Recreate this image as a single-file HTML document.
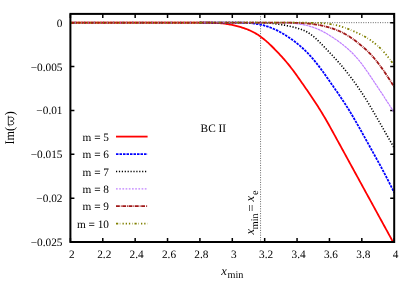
<!DOCTYPE html>
<html><head><meta charset="utf-8"><title>plot</title>
<style>
html,body{margin:0;padding:0;background:#fff;}
body{width:415px;height:291px;overflow:hidden;position:relative;font-family:"Liberation Serif",serif;}
svg text{font-family:"Liberation Serif",serif;fill:#000;text-rendering:geometricPrecision;}
.t11{font-size:11.3px;}
.t12{font-size:12.5px;}
.t13{font-size:13.3px;}
.t10{font-size:10.2px;}
</style></head><body>
<svg width="415" height="291" viewBox="0 0 415 291" style="position:absolute;left:0;top:0;will-change:transform">
<rect x="0" y="0" width="415" height="291" fill="#ffffff"/>
<line x1="70.40" y1="22.67" x2="394.20" y2="22.67" stroke="#000" stroke-width="0.6" stroke-dasharray="1 1.4"/>
<line x1="260.55" y1="13.90" x2="260.55" y2="242.00" stroke="#000" stroke-width="0.6" stroke-dasharray="1 1.4"/>
<path d="M70.40 242.00 v-4 M70.40 13.90 v4 M102.78 242.00 v-4 M102.78 13.90 v4 M135.16 242.00 v-4 M135.16 13.90 v4 M167.54 242.00 v-4 M167.54 13.90 v4 M199.92 242.00 v-4 M199.92 13.90 v4 M232.30 242.00 v-4 M232.30 13.90 v4 M264.68 242.00 v-4 M264.68 13.90 v4 M297.06 242.00 v-4 M297.06 13.90 v4 M329.44 242.00 v-4 M329.44 13.90 v4 M361.82 242.00 v-4 M361.82 13.90 v4 M394.20 242.00 v-4 M394.20 13.90 v4 M70.40 22.67 h4 M394.20 22.67 h-4 M70.40 66.54 h4 M394.20 66.54 h-4 M70.40 110.40 h4 M394.20 110.40 h-4 M70.40 154.27 h4 M394.20 154.27 h-4 M70.40 198.13 h4 M394.20 198.13 h-4 M70.40 242.00 h4 M394.20 242.00 h-4" stroke="#000" stroke-width="1.5" fill="none"/>
<line x1="70.40" y1="22.67" x2="200.00" y2="22.67" stroke="#ff0000" stroke-width="1.90"/>
<line x1="70.40" y1="22.67" x2="200.00" y2="22.67" stroke="#0000ff" stroke-width="2.00" stroke-dasharray="0.9 8.7" stroke-dashoffset="-4.0"/>
<line x1="70.40" y1="22.67" x2="200.00" y2="22.67" stroke="#a01818" stroke-width="2.00" stroke-dasharray="2.0 1.2" stroke-dashoffset="-1.4"/>
<line x1="70.40" y1="22.67" x2="200.00" y2="22.67" stroke="#c080ff" stroke-width="2.00" stroke-dasharray="1.0 5.4" stroke-dashoffset="-4.3"/>
<line x1="70.40" y1="22.67" x2="200.00" y2="22.67" stroke="#808000" stroke-width="2.00" stroke-dasharray="1.0 2.2" stroke-dashoffset="-0.6"/>
<path d="M200.00 22.67 L200.00 22.67 L201.00 22.67 L202.00 22.67 L203.00 22.67 L204.00 22.67 L205.00 22.68 L206.00 22.68 L207.00 22.69 L208.00 22.69 L209.00 22.70 L210.00 22.72 L211.00 22.74 L212.00 22.76 L213.00 22.79 L214.00 22.82 L215.00 22.86 L216.00 22.91 L217.00 22.97 L218.00 23.02 L219.00 23.10 L220.00 23.17 L221.00 23.26 L222.00 23.36 L223.00 23.47 L224.00 23.58 L225.00 23.71 L226.00 23.85 L227.00 24.00 L228.00 24.16 L229.00 24.33 L230.00 24.51 L231.00 24.71 L232.00 24.91 L233.00 25.13 L234.00 25.35 L235.00 25.59 L236.00 25.83 L237.00 26.09 L238.00 26.35 L239.00 26.63 L240.00 26.91 L241.00 27.21 L242.00 27.52 L243.00 27.85 L244.00 28.18 L245.00 28.53 L246.00 28.89 L247.00 29.28 L248.00 29.67 L249.00 30.10 L250.00 30.53 L251.00 30.99 L252.00 31.46 L253.00 31.98 L254.00 32.49 L255.00 33.06 L256.00 33.62 L257.00 34.24 L258.00 34.86 L259.00 35.53 L260.00 36.20 L261.00 36.94 L262.00 37.67 L263.00 38.45 L264.00 39.24 L265.00 40.08 L266.00 40.91 L267.00 41.80 L268.00 42.69 L269.00 43.62 L270.00 44.55 L271.00 45.52 L272.00 46.49 L273.00 47.49 L274.00 48.49 L275.00 49.52 L276.00 50.55 L277.00 51.60 L278.00 52.65 L279.00 53.72 L280.00 54.79 L281.00 55.88 L282.00 56.98 L283.00 58.10 L284.00 59.22 L285.00 60.37 L286.00 61.53 L287.00 62.73 L288.00 63.92 L289.00 65.17 L290.00 66.41 L291.00 67.70 L292.00 68.99 L293.00 70.32 L294.00 71.66 L295.00 73.03 L296.00 74.40 L297.00 75.80 L298.00 77.20 L299.00 78.62 L300.00 80.04 L301.00 81.47 L302.00 82.90 L303.00 84.33 L304.00 85.77 L305.00 87.21 L306.00 88.65 L307.00 90.10 L308.00 91.55 L309.00 93.01 L310.00 94.47 L311.00 95.94 L312.00 97.42 L313.00 98.92 L314.00 100.42 L315.00 101.94 L316.00 103.46 L317.00 105.02 L318.00 106.57 L319.00 108.16 L320.00 109.76 L321.00 111.38 L322.00 113.01 L323.00 114.68 L324.00 116.35 L325.00 118.06 L326.00 119.77 L327.00 121.52 L328.00 123.27 L329.00 125.05 L330.00 126.83 L331.00 128.63 L332.00 130.44 L333.00 132.26 L334.00 134.08 L335.00 135.91 L336.00 137.74 L337.00 139.57 L338.00 141.39 L339.00 143.22 L340.00 145.05 L341.00 146.88 L342.00 148.70 L343.00 150.53 L344.00 152.36 L345.00 154.18 L346.00 156.01 L347.00 157.84 L348.00 159.67 L349.00 161.49 L350.00 163.32 L351.00 165.15 L352.00 166.98 L353.00 168.80 L354.00 170.63 L355.00 172.46 L356.00 174.28 L357.00 176.11 L358.00 177.94 L359.00 179.77 L360.00 181.59 L361.00 183.42 L362.00 185.25 L363.00 187.08 L364.00 188.90 L365.00 190.73 L366.00 192.56 L367.00 194.38 L368.00 196.21 L369.00 198.04 L370.00 199.87 L371.00 201.69 L372.00 203.52 L373.00 205.35 L374.00 207.18 L375.00 209.00 L376.00 210.83 L377.00 212.66 L378.00 214.48 L379.00 216.31 L380.00 218.14 L381.00 219.97 L382.00 221.79 L383.00 223.62 L384.00 225.45 L385.00 227.28 L386.00 229.10 L387.00 230.93 L388.00 232.76 L389.00 234.58 L390.00 236.41 L391.00 238.24 L392.00 240.07 L393.00 241.89 L394.00 242.00 L394.20 242.00" fill="none" stroke="#ff0000" stroke-width="1.80" stroke-linejoin="round"/>
<path d="M200.00 22.67 L228.00 22.67 L229.00 22.67 L230.00 22.67 L231.00 22.67 L232.00 22.67 L233.00 22.67 L234.00 22.67 L235.00 22.67 L236.00 22.67 L237.00 22.68 L238.00 22.68 L239.00 22.69 L240.00 22.70 L241.00 22.72 L242.00 22.73 L243.00 22.76 L244.00 22.79 L245.00 22.83 L246.00 22.87 L247.00 22.92 L248.00 22.98 L249.00 23.05 L250.00 23.12 L251.00 23.22 L252.00 23.31 L253.00 23.43 L254.00 23.55 L255.00 23.69 L256.00 23.83 L257.00 24.00 L258.00 24.16 L259.00 24.35 L260.00 24.54 L261.00 24.76 L262.00 24.98 L263.00 25.23 L264.00 25.48 L265.00 25.76 L266.00 26.04 L267.00 26.36 L268.00 26.67 L269.00 27.03 L270.00 27.38 L271.00 27.76 L272.00 28.15 L273.00 28.57 L274.00 29.00 L275.00 29.46 L276.00 29.92 L277.00 30.42 L278.00 30.91 L279.00 31.44 L280.00 31.98 L281.00 32.54 L282.00 33.10 L283.00 33.70 L284.00 34.30 L285.00 34.92 L286.00 35.54 L287.00 36.19 L288.00 36.84 L289.00 37.52 L290.00 38.20 L291.00 38.90 L292.00 39.60 L293.00 40.33 L294.00 41.06 L295.00 41.82 L296.00 42.58 L297.00 43.38 L298.00 44.17 L299.00 45.00 L300.00 45.84 L301.00 46.71 L302.00 47.58 L303.00 48.50 L304.00 49.42 L305.00 50.39 L306.00 51.36 L307.00 52.37 L308.00 53.39 L309.00 54.46 L310.00 55.53 L311.00 56.65 L312.00 57.78 L313.00 58.95 L314.00 60.13 L315.00 61.35 L316.00 62.57 L317.00 63.84 L318.00 65.11 L319.00 66.42 L320.00 67.74 L321.00 69.09 L322.00 70.44 L323.00 71.82 L324.00 73.21 L325.00 74.62 L326.00 76.03 L327.00 77.46 L328.00 78.89 L329.00 80.33 L330.00 81.76 L331.00 83.20 L332.00 84.64 L333.00 86.08 L334.00 87.52 L335.00 88.96 L336.00 90.40 L337.00 91.85 L338.00 93.30 L339.00 94.76 L340.00 96.22 L341.00 97.70 L342.00 99.18 L343.00 100.70 L344.00 102.21 L345.00 103.75 L346.00 105.30 L347.00 106.88 L348.00 108.47 L349.00 110.09 L350.00 111.71 L351.00 113.37 L352.00 115.03 L353.00 116.73 L354.00 118.43 L355.00 120.16 L356.00 121.88 L357.00 123.64 L358.00 125.40 L359.00 127.17 L360.00 128.95 L361.00 130.74 L362.00 132.53 L363.00 134.33 L364.00 136.13 L365.00 137.93 L366.00 139.74 L367.00 141.54 L368.00 143.34 L369.00 145.14 L370.00 146.95 L371.00 148.75 L372.00 150.55 L373.00 152.35 L374.00 154.15 L375.00 155.96 L376.00 157.76 L377.00 159.57 L378.00 161.39 L379.00 163.21 L380.00 165.04 L381.00 166.89 L382.00 168.75 L383.00 170.63 L384.00 172.51 L385.00 174.42 L386.00 176.33 L387.00 178.28 L388.00 180.22 L389.00 182.19 L390.00 184.16 L391.00 186.16 L392.00 188.16 L393.00 190.19 L394.00 192.22 L394.20 192.63" fill="none" stroke="#0000ff" stroke-width="1.80" stroke-dasharray="2.5 1.0" stroke-linejoin="round"/>
<path d="M200.00 22.67 L250.00 22.67 L251.00 22.67 L252.00 22.67 L253.00 22.67 L254.00 22.67 L255.00 22.67 L256.00 22.67 L257.00 22.68 L258.00 22.68 L259.00 22.70 L260.00 22.71 L261.00 22.73 L262.00 22.75 L263.00 22.78 L264.00 22.81 L265.00 22.86 L266.00 22.90 L267.00 22.97 L268.00 23.03 L269.00 23.11 L270.00 23.19 L271.00 23.29 L272.00 23.38 L273.00 23.50 L274.00 23.61 L275.00 23.74 L276.00 23.87 L277.00 24.01 L278.00 24.16 L279.00 24.31 L280.00 24.46 L281.00 24.63 L282.00 24.79 L283.00 24.97 L284.00 25.14 L285.00 25.33 L286.00 25.51 L287.00 25.71 L288.00 25.91 L289.00 26.12 L290.00 26.33 L291.00 26.56 L292.00 26.78 L293.00 27.03 L294.00 27.27 L295.00 27.53 L296.00 27.80 L297.00 28.08 L298.00 28.37 L299.00 28.68 L300.00 29.00 L301.00 29.35 L302.00 29.71 L303.00 30.12 L304.00 30.52 L305.00 31.00 L306.00 31.47 L307.00 32.02 L308.00 32.57 L309.00 33.21 L310.00 33.85 L311.00 34.57 L312.00 35.30 L313.00 36.11 L314.00 36.92 L315.00 37.81 L316.00 38.70 L317.00 39.64 L318.00 40.59 L319.00 41.58 L320.00 42.57 L321.00 43.59 L322.00 44.61 L323.00 45.64 L324.00 46.67 L325.00 47.71 L326.00 48.75 L327.00 49.80 L328.00 50.84 L329.00 51.89 L330.00 52.94 L331.00 54.00 L332.00 55.06 L333.00 56.13 L334.00 57.20 L335.00 58.29 L336.00 59.38 L337.00 60.49 L338.00 61.61 L339.00 62.75 L340.00 63.89 L341.00 65.06 L342.00 66.23 L343.00 67.44 L344.00 68.64 L345.00 69.88 L346.00 71.11 L347.00 72.38 L348.00 73.64 L349.00 74.93 L350.00 76.23 L351.00 77.55 L352.00 78.87 L353.00 80.22 L354.00 81.57 L355.00 82.95 L356.00 84.34 L357.00 85.75 L358.00 87.17 L359.00 88.63 L360.00 90.08 L361.00 91.58 L362.00 93.07 L363.00 94.61 L364.00 96.15 L365.00 97.74 L366.00 99.32 L367.00 100.95 L368.00 102.57 L369.00 104.24 L370.00 105.90 L371.00 107.60 L372.00 109.30 L373.00 111.02 L374.00 112.74 L375.00 114.48 L376.00 116.22 L377.00 117.96 L378.00 119.70 L379.00 121.45 L380.00 123.19 L381.00 124.94 L382.00 126.68 L383.00 128.43 L384.00 130.17 L385.00 131.92 L386.00 133.66 L387.00 135.41 L388.00 137.15 L389.00 138.90 L390.00 140.64 L391.00 142.39 L392.00 144.13 L393.00 145.88 L394.00 147.62 L394.20 147.97" fill="none" stroke="#000000" stroke-width="1.60" stroke-dasharray="1.2 1.7" stroke-linejoin="round"/>
<path d="M200.00 22.67 L268.00 22.67 L269.00 22.67 L270.00 22.67 L271.00 22.67 L272.00 22.67 L273.00 22.67 L274.00 22.68 L275.00 22.68 L276.00 22.68 L277.00 22.69 L278.00 22.70 L279.00 22.71 L280.00 22.73 L281.00 22.74 L282.00 22.76 L283.00 22.79 L284.00 22.82 L285.00 22.85 L286.00 22.89 L287.00 22.93 L288.00 22.98 L289.00 23.03 L290.00 23.09 L291.00 23.16 L292.00 23.23 L293.00 23.32 L294.00 23.40 L295.00 23.51 L296.00 23.61 L297.00 23.73 L298.00 23.85 L299.00 23.99 L300.00 24.13 L301.00 24.30 L302.00 24.46 L303.00 24.65 L304.00 24.84 L305.00 25.06 L306.00 25.27 L307.00 25.52 L308.00 25.77 L309.00 26.04 L310.00 26.32 L311.00 26.63 L312.00 26.94 L313.00 27.28 L314.00 27.63 L315.00 28.00 L316.00 28.38 L317.00 28.80 L318.00 29.21 L319.00 29.66 L320.00 30.11 L321.00 30.60 L322.00 31.08 L323.00 31.61 L324.00 32.13 L325.00 32.69 L326.00 33.24 L327.00 33.83 L328.00 34.41 L329.00 35.03 L330.00 35.64 L331.00 36.28 L332.00 36.92 L333.00 37.58 L334.00 38.25 L335.00 38.93 L336.00 39.62 L337.00 40.33 L338.00 41.04 L339.00 41.77 L340.00 42.51 L341.00 43.27 L342.00 44.03 L343.00 44.83 L344.00 45.62 L345.00 46.45 L346.00 47.28 L347.00 48.15 L348.00 49.02 L349.00 49.93 L350.00 50.84 L351.00 51.80 L352.00 52.76 L353.00 53.78 L354.00 54.80 L355.00 55.88 L356.00 56.96 L357.00 58.11 L358.00 59.25 L359.00 60.47 L360.00 61.69 L361.00 62.99 L362.00 64.28 L363.00 65.63 L364.00 66.98 L365.00 68.39 L366.00 69.79 L367.00 71.24 L368.00 72.68 L369.00 74.15 L370.00 75.62 L371.00 77.10 L372.00 78.58 L373.00 80.07 L374.00 81.56 L375.00 83.06 L376.00 84.56 L377.00 86.06 L378.00 87.56 L379.00 89.07 L380.00 90.59 L381.00 92.11 L382.00 93.64 L383.00 95.18 L384.00 96.72 L385.00 98.27 L386.00 99.81 L387.00 101.37 L388.00 102.92 L389.00 104.47 L390.00 106.02 L391.00 107.57 L392.00 109.13 L393.00 110.68 L394.00 112.23 L394.20 112.54" fill="none" stroke="#c080ff" stroke-width="1.20" stroke-dasharray="2.7 0.5" stroke-linejoin="round"/>
<path d="M200.00 22.67 L282.00 22.67 L283.00 22.67 L284.00 22.67 L285.00 22.68 L286.00 22.68 L287.00 22.69 L288.00 22.69 L289.00 22.70 L290.00 22.71 L291.00 22.73 L292.00 22.74 L293.00 22.77 L294.00 22.79 L295.00 22.81 L296.00 22.84 L297.00 22.88 L298.00 22.91 L299.00 22.95 L300.00 23.00 L301.00 23.05 L302.00 23.11 L303.00 23.17 L304.00 23.23 L305.00 23.31 L306.00 23.38 L307.00 23.47 L308.00 23.56 L309.00 23.66 L310.00 23.76 L311.00 23.87 L312.00 23.99 L313.00 24.11 L314.00 24.24 L315.00 24.39 L316.00 24.54 L317.00 24.70 L318.00 24.86 L319.00 25.05 L320.00 25.23 L321.00 25.43 L322.00 25.64 L323.00 25.86 L324.00 26.09 L325.00 26.34 L326.00 26.58 L327.00 26.85 L328.00 27.12 L329.00 27.42 L330.00 27.71 L331.00 28.03 L332.00 28.34 L333.00 28.68 L334.00 29.03 L335.00 29.40 L336.00 29.77 L337.00 30.17 L338.00 30.57 L339.00 31.00 L340.00 31.44 L341.00 31.91 L342.00 32.39 L343.00 32.90 L344.00 33.41 L345.00 33.97 L346.00 34.52 L347.00 35.12 L348.00 35.72 L349.00 36.36 L350.00 37.01 L351.00 37.69 L352.00 38.38 L353.00 39.10 L354.00 39.82 L355.00 40.58 L356.00 41.33 L357.00 42.12 L358.00 42.90 L359.00 43.70 L360.00 44.50 L361.00 45.33 L362.00 46.16 L363.00 47.02 L364.00 47.88 L365.00 48.78 L366.00 49.68 L367.00 50.63 L368.00 51.58 L369.00 52.59 L370.00 53.60 L371.00 54.67 L372.00 55.74 L373.00 56.87 L374.00 58.01 L375.00 59.21 L376.00 60.42 L377.00 61.68 L378.00 62.95 L379.00 64.27 L380.00 65.60 L381.00 66.97 L382.00 68.35 L383.00 69.77 L384.00 71.19 L385.00 72.66 L386.00 74.12 L387.00 75.63 L388.00 77.14 L389.00 78.69 L390.00 80.23 L391.00 81.82 L392.00 83.41 L393.00 85.03 L394.00 86.66 L394.20 86.99" fill="none" stroke="#a01818" stroke-width="1.80" stroke-dasharray="3.8 1 0.8 0.7" stroke-linejoin="round"/>
<path d="M200.00 22.67 L294.00 22.67 L295.00 22.67 L296.00 22.67 L297.00 22.67 L298.00 22.67 L299.00 22.68 L300.00 22.68 L301.00 22.68 L302.00 22.69 L303.00 22.69 L304.00 22.70 L305.00 22.71 L306.00 22.71 L307.00 22.72 L308.00 22.73 L309.00 22.75 L310.00 22.76 L311.00 22.77 L312.00 22.79 L313.00 22.81 L314.00 22.83 L315.00 22.86 L316.00 22.89 L317.00 22.93 L318.00 22.96 L319.00 23.01 L320.00 23.06 L321.00 23.12 L322.00 23.18 L323.00 23.25 L324.00 23.33 L325.00 23.42 L326.00 23.51 L327.00 23.62 L328.00 23.74 L329.00 23.88 L330.00 24.01 L331.00 24.18 L332.00 24.34 L333.00 24.53 L334.00 24.72 L335.00 24.94 L336.00 25.16 L337.00 25.41 L338.00 25.66 L339.00 25.93 L340.00 26.21 L341.00 26.51 L342.00 26.81 L343.00 27.13 L344.00 27.46 L345.00 27.81 L346.00 28.16 L347.00 28.53 L348.00 28.90 L349.00 29.29 L350.00 29.68 L351.00 30.09 L352.00 30.49 L353.00 30.92 L354.00 31.35 L355.00 31.79 L356.00 32.23 L357.00 32.69 L358.00 33.15 L359.00 33.63 L360.00 34.11 L361.00 34.62 L362.00 35.12 L363.00 35.65 L364.00 36.18 L365.00 36.74 L366.00 37.31 L367.00 37.91 L368.00 38.51 L369.00 39.15 L370.00 39.80 L371.00 40.50 L372.00 41.19 L373.00 41.95 L374.00 42.70 L375.00 43.52 L376.00 44.33 L377.00 45.21 L378.00 46.09 L379.00 47.03 L380.00 47.98 L381.00 48.99 L382.00 50.00 L383.00 51.09 L384.00 52.17 L385.00 53.33 L386.00 54.48 L387.00 55.71 L388.00 56.94 L389.00 58.23 L390.00 59.53 L391.00 60.90 L392.00 62.27 L393.00 63.71 L394.00 65.16 L394.20 65.46" fill="none" stroke="#808000" stroke-width="1.75" stroke-dasharray="2.2 1.6 0.5 2.2 1.3 1.9 1.3 1.9 1.3 2.2 0.5 1.6" stroke-linejoin="round"/>
<line x1="116" y1="136.60" x2="147.6" y2="136.60" stroke="#ff0000" stroke-width="1.80"/>
<text x="109" y="140.80" text-anchor="end" class="t11">m = 5</text>
<line x1="116" y1="154.10" x2="147.6" y2="154.10" stroke="#0000ff" stroke-width="1.80" stroke-dasharray="2.5 1.0"/>
<text x="109" y="158.30" text-anchor="end" class="t11">m = 6</text>
<line x1="116" y1="171.50" x2="147.6" y2="171.50" stroke="#000000" stroke-width="1.60" stroke-dasharray="1.2 1.7"/>
<text x="109" y="175.70" text-anchor="end" class="t11">m = 7</text>
<line x1="116" y1="188.90" x2="147.6" y2="188.90" stroke="#c080ff" stroke-width="1.20" stroke-dasharray="1.7 1.5"/>
<text x="109" y="193.10" text-anchor="end" class="t11">m = 8</text>
<line x1="116" y1="206.20" x2="147.6" y2="206.20" stroke="#a01818" stroke-width="1.80" stroke-dasharray="3.8 1 0.8 0.7"/>
<text x="109" y="210.40" text-anchor="end" class="t11">m = 9</text>
<line x1="116" y1="223.50" x2="147.6" y2="223.50" stroke="#808000" stroke-width="1.75" stroke-dasharray="2.2 1.6 0.5 2.2 1.3 1.9 1.3 1.9 1.3 2.2 0.5 1.6"/>
<text x="109" y="227.70" text-anchor="end" class="t11">m = 10</text>
<rect x="70.40" y="13.90" width="323.80" height="228.10" fill="none" stroke="#000" stroke-width="2"/>
<text x="71.90" y="257.5" text-anchor="middle" class="t11">2</text>
<text x="104.28" y="257.5" text-anchor="middle" class="t11">2.2</text>
<text x="136.66" y="257.5" text-anchor="middle" class="t11">2.4</text>
<text x="169.04" y="257.5" text-anchor="middle" class="t11">2.6</text>
<text x="201.42" y="257.5" text-anchor="middle" class="t11">2.8</text>
<text x="233.80" y="257.5" text-anchor="middle" class="t11">3</text>
<text x="266.18" y="257.5" text-anchor="middle" class="t11">3.2</text>
<text x="298.56" y="257.5" text-anchor="middle" class="t11">3.4</text>
<text x="330.94" y="257.5" text-anchor="middle" class="t11">3.6</text>
<text x="363.32" y="257.5" text-anchor="middle" class="t11">3.8</text>
<text x="395.70" y="257.5" text-anchor="middle" class="t11">4</text>
<text x="62.5" y="26.67" text-anchor="end" class="t11">0</text>
<text x="62.5" y="70.54" text-anchor="end" class="t11">−0.005</text>
<text x="62.5" y="114.40" text-anchor="end" class="t11">−0.01</text>
<text x="62.5" y="158.27" text-anchor="end" class="t11">−0.015</text>
<text x="62.5" y="202.13" text-anchor="end" class="t11">−0.02</text>
<text x="62.5" y="246.00" text-anchor="end" class="t11">−0.025</text>
<text x="200.6" y="132" class="t11">BC II</text>
<g transform="translate(13.9 144.6) rotate(-90)"><text x="0" y="0" class="t13" textLength="17.7" lengthAdjust="spacingAndGlyphs">Im(</text><path transform="translate(18.6 0)" d="M0 -4.7 C0.5 -5.6 1.2 -5.6 2.0 -5.6 L9.9 -5.6 M1.6 -5.4 C0.4 -3.0 1.2 -0.1 3.0 -0.1 C4.4 -0.1 4.9 -2.0 4.9 -3.5 C4.9 -2.0 5.5 -0.1 6.9 -0.1 C8.8 -0.1 9.5 -3.0 8.5 -5.4" fill="none" stroke="#000" stroke-width="0.75" stroke-linecap="round"/><text x="29.0" y="0" class="t13">)</text></g>
<text x="221.3" y="274.5" class="t12"><tspan font-style="italic">x</tspan></text>
<text x="227.5" y="277.8" class="t10">min</text>
<g transform="translate(254.4 234.4) rotate(-90)"><text x="0" y="0" class="t12" font-style="italic">x</text><text x="5.2" y="3.6" class="t10">min</text><text x="23.0" y="1.0" class="t12">=</text><text x="33.0" y="0" class="t12" font-style="italic">x</text><text x="39.4" y="3.6" class="t10">e</text></g>
</svg>
</body></html>
